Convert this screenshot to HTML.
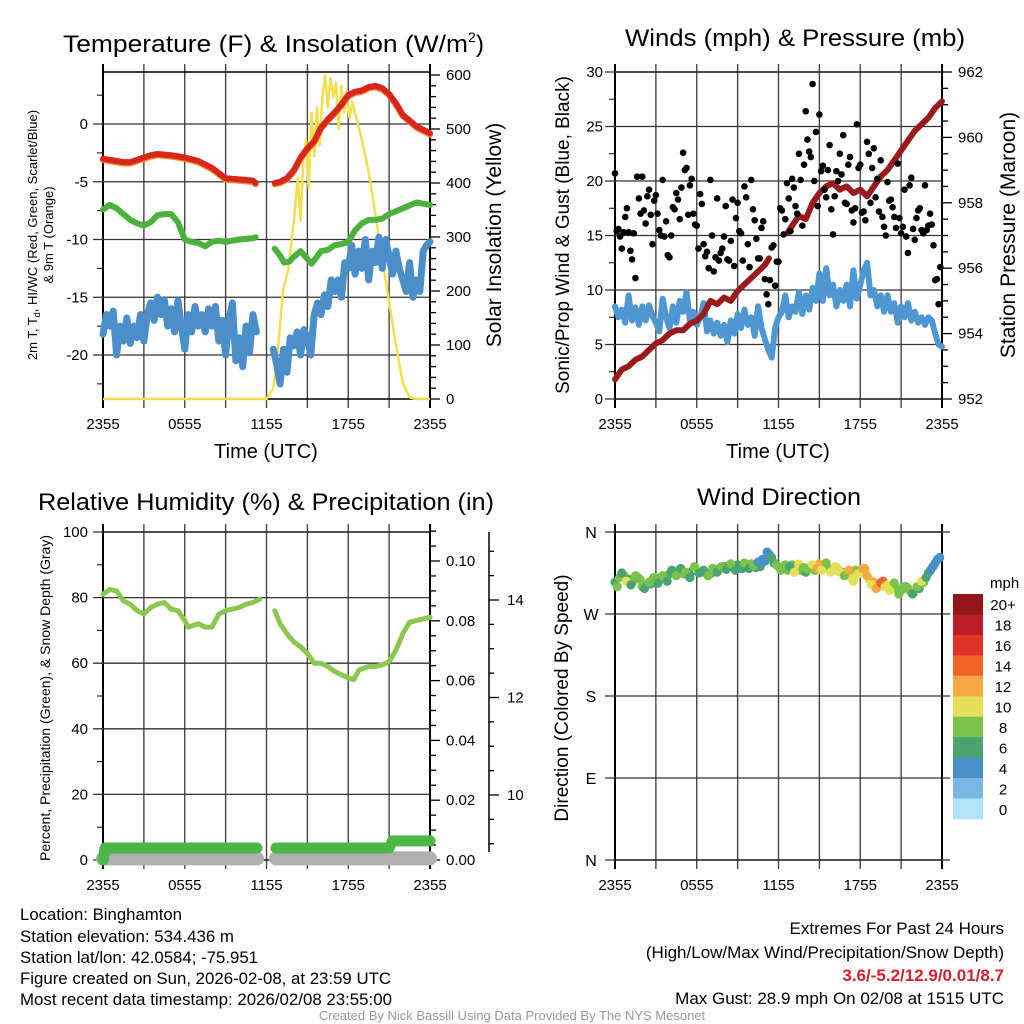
<!DOCTYPE html>
<html><head><meta charset="utf-8"><style>
html,body{margin:0;padding:0;background:#fff}
svg{display:block;font-family:"Liberation Sans Narrow","Liberation Sans",sans-serif}
</style></head><body>
<svg id="c" width="1024" height="1024" viewBox="0 0 1024 1024" xmlns="http://www.w3.org/2000/svg">
<rect width="1024" height="1024" fill="#fff"/>
<g id="g-tl"></g>
<g id="g-tr"></g>
<g id="g-bl"></g>
<g id="g-br"></g>
<text x="63" y="52" font-size="24" textLength="405" lengthAdjust="spacingAndGlyphs">Temperature (F) &amp; Insolation (W/m</text>
<text x="468" y="42" font-size="14">2</text>
<text x="476" y="52" font-size="24">)</text>
<text x="625" y="46" font-size="24" textLength="340" lengthAdjust="spacingAndGlyphs">Winds (mph) &amp; Pressure (mb)</text>
<text x="38" y="510" font-size="24" textLength="456" lengthAdjust="spacingAndGlyphs">Relative Humidity (%) &amp; Precipitation (in)</text>
<text x="697" y="505" font-size="24" textLength="164" lengthAdjust="spacingAndGlyphs">Wind Direction</text>
<g font-size="17">
<text x="20" y="920" textLength="162" lengthAdjust="spacingAndGlyphs">Location: Binghamton</text>
<text x="20" y="942" textLength="214" lengthAdjust="spacingAndGlyphs">Station elevation: 534.436 m</text>
<text x="20" y="963" textLength="238" lengthAdjust="spacingAndGlyphs">Station lat/lon: 42.0584; -75.951</text>
<text x="20" y="984" textLength="371" lengthAdjust="spacingAndGlyphs">Figure created on Sun, 2026-02-08, at 23:59 UTC</text>
<text x="20" y="1005" textLength="372" lengthAdjust="spacingAndGlyphs">Most recent data timestamp: 2026/02/08 23:55:00</text>
</g>
<g font-size="17" text-anchor="end">
<text x="1004" y="934">Extremes For Past 24 Hours</text>
<text x="1004" y="958">(High/Low/Max Wind/Precipitation/Snow Depth)</text>
<text x="1004" y="981" fill="#d2232a" font-weight="bold">3.6/-5.2/12.9/0.01/8.7</text>
<text x="1004" y="1004">Max Gust: 28.9 mph On 02/08 at 1515 UTC</text>
</g>
<text x="512" y="1020" font-size="13" fill="#999" text-anchor="middle">Created By Nick Bassill Using Data Provided By The NYS Mesonet</text>
</svg>
<script>
// ---- Temperature panel data ----
const tTimes=[0,0.5,1,1.5,2,2.5,3,3.5,4,5,6,7,8,9,10,11,11.2,11.9,12.6,13,13.5,14,14.5,15,15.5,16,16.5,17,17.5,18,18.5,19,19.5,20,20.5,21,21.5,22,23,24];
const tVals=[-3.0,-3.1,-3.2,-3.3,-3.3,-3.1,-2.9,-2.7,-2.6,-2.7,-2.9,-3.2,-3.8,-4.7,-4.8,-4.9,-5.1,null,-5.1,-5.0,-4.7,-4.0,-2.9,-2.1,-1.5,-0.3,0.4,1.0,1.7,2.5,2.8,2.9,3.2,3.3,3.1,2.6,1.8,0.8,-0.2,-0.8];
const tdTimes=[0,0.5,1,1.5,2,2.5,3,3.5,4,4.5,5,5.5,6,6.5,7,7.5,8,8.5,9,10,11,11.2,11.9,12.6,13,13.3,13.7,14,14.5,15,15.3,15.7,16,16.5,17,17.5,18,18.5,19,19.5,20,20.5,21,22,23,24];
const tdVals=[-7.4,-7.0,-7.3,-7.8,-8.3,-8.6,-8.8,-8.5,-7.9,-7.8,-7.8,-8.5,-10.0,-10.2,-10.3,-10.6,-10.2,-10.1,-10.2,-10.0,-9.9,-9.8,null,-10.8,-11.4,-12.0,-11.9,-11.5,-11.0,-11.7,-12.1,-11.5,-11.0,-10.9,-10.5,-10.4,-10.2,-9.2,-8.6,-8.3,-8.3,-8.2,-7.8,-7.3,-6.8,-7.0];
const wcStart1=0, wcStart2=12.5, wcStep=0.25;
const wc1=[-18.2,-16.5,-17.5,-16.2,-20.0,-17.5,-18.8,-16.8,-19.0,-17.5,-18.5,-16.5,-18.8,-16.5,-15.5,-17.0,-15.0,-16.5,-15.2,-17.5,-16.0,-18.0,-15.3,-17.5,-19.5,-16.5,-18.0,-15.8,-17.5,-16.5,-18.0,-16.0,-17.5,-15.8,-18.8,-17.0,-20.0,-17.0,-15.5,-20.5,-18.5,-21.0,-17.5,-19.8,-16.5,-18.0];
const wc2=[-19.5,-20.8,-22.5,-19.5,-21.5,-18.5,-19.2,-18.0,-20.0,-17.8,-18.5,-20.0,-16.5,-15.5,-16.5,-14.8,-15.8,-13.5,-14.5,-13.5,-15.0,-12.0,-12.5,-10.5,-13.0,-11.0,-12.5,-10.0,-13.5,-11.0,-12.0,-9.8,-12.5,-10.0,-11.5,-13.0,-11.0,-12.5,-13.5,-14.5,-12.0,-15.0,-13.5,-14.5,-11.0,-10.5,-10.2];
const solTimes=[0,12.0,12.5,12.8,13.2,13.6,14,14.3,14.5,14.7,14.9,15.1,15.3,15.5,15.7,15.9,16.1,16.3,16.5,16.7,16.9,17.1,17.3,17.5,17.7,17.9,18.1,18.3,18.6,19,19.5,20,20.5,21,21.5,22,22.5,23,24];
const solVals=[0,0,20,80,200,240,330,410,330,440,480,390,530,450,540,470,560,600,540,595,560,585,500,580,530,570,520,550,520,480,420,340,260,180,100,30,3,0,0];
const tempTicks=[0,-5,-10,-15,-20];
const solTicks=[0,100,200,300,400,500,600];
const timeLabels=["2355","0555","1155","1755","2355"];
// ---- Winds panel data ----
const windStep=0.25;
const windVals=[8.5,7.5,8.2,7.0,9.5,7.2,8.4,6.8,8.5,7.2,8.6,7.6,7.0,6.2,9.2,7.5,6.5,8.5,7.0,9.0,8.0,9.8,7.2,8.0,6.8,7.5,8.8,6.2,7.2,6.0,7.0,5.8,6.8,5.2,7.2,6.0,7.8,6.5,8.2,6.8,7.5,5.8,8.5,6.5,5.5,4.5,3.8,6.5,7.5,8.0,9.5,7.5,8.5,8.0,9.8,7.8,9.5,8.2,10.2,9.0,11.5,9.0,12.0,9.5,10.5,8.5,10.0,9.0,10.5,8.5,11.8,9.2,10.5,11.8,12.5,9.5,10.0,8.5,9.5,8.0,9.5,8.0,8.8,7.0,8.5,7.5,8.8,7.2,8.0,7.0,7.5,6.8,7.5,7.2,6.0,5.0,4.8];
const gustStep=0.25;
const gustA=[20.7,15.6,13.8,16.7,15.3,12.8,11.1,18.4,20.4,16.1,19.2,14.2,18.7,15.5,20.1,16.3,13.0,17.6,18.9,16.5,22.6,21.2,19.6,17.0,15.9,18.8,14.2,13.5,20.1,11.7,18.4,13.4,14.9,12.8,14.5,12.2,18.0,15.2,19.5,14.2,20.1,16.4,12.9,15.7,11.0,8.7,13.9,10.4,12.6,17.3,16.5,18.4,20.2,17.7,22.5,15.9,26.4,22.7,28.9,24.5,26.1,21.4,18.5,23.3,15.1,20.9,22.5,24.2,17.9,22.2,16.2,25.2,21.5,17.2,23.6,18.0,23.0,20.2,21.9,15.8,19.9,18.3,16.7,21.6,15.2,19.2,13.4,20.3,14.6,17.3,15.5,19.6,15.9,16.0,10.9,8.7];
const gustB=[15.4,14.9,15.3,17.5,13.6,15.2,20.4,17.0,17.3,18.6,16.9,18.2,17.0,15.0,14.9,13.2,15.0,17.4,18.3,19.4,21.0,16.9,20.2,16.0,13.8,17.9,13.1,12.0,15.0,13.0,12.7,13.8,17.7,12.7,18.3,16.6,15.4,12.7,18.5,12.1,17.4,14.7,12.9,16.3,9.6,10.9,14.1,12.6,17.5,15.1,19.8,15.4,19.4,17.0,20.1,21.5,23.8,22.2,20.0,17.7,20.9,19.2,21.0,17.4,18.6,20.0,20.6,18.0,21.5,17.3,17.5,21.2,17.1,16.4,22.5,21.2,18.5,17.2,16.7,15.0,18.2,17.6,15.7,16.6,15.8,14.9,19.6,15.6,16.6,17.5,15.2,15.5,17.0,14.1,11.0,12.1];
const presTimes=[0,0.5,1,1.5,2,2.5,3,3.5,4,4.5,5,5.5,6,6.5,7,7.5,8,8.5,9,9.5,10,10.5,11,11.3,12.0,12.7,13,13.5,14,14.5,15,15.5,16,16.5,17,17.5,18,18.5,19,19.5,20,20.5,21,21.5,22,22.5,23,23.5,24];
const presVals=[952.6,952.9,953.0,953.2,953.3,953.5,953.7,953.8,954.0,954.1,954.1,954.3,954.4,954.6,955.0,954.9,955.1,955.0,955.3,955.5,955.7,955.9,956.1,956.3,null,957.1,957.3,957.6,957.5,958.0,958.3,958.5,958.6,958.4,958.5,958.3,958.4,958.2,958.5,958.8,959.0,959.3,959.6,959.9,960.2,960.4,960.6,960.9,961.1];
const windTicks=[0,5,10,15,20,25,30];
const presTicks=[952,954,956,958,960,962];
// ---- Humidity panel data ----
const rhTimes=[0,0.5,1,1.5,2,2.5,3,3.5,4,4.5,5,5.5,6,6.25,7,7.5,8,8.5,9,10,10.5,11,11.5,12.0,12.6,13,13.5,14,14.5,15,15.5,16,16.5,17,17.5,18,18.4,18.8,19.5,20,20.5,21,21.5,22,22.5,23,23.5,24];
const rhVals=[81,82.5,82,79,78,76,75,77,78,78.5,76.5,76,73,71,72,71,71,75,76,77,78,78.5,79.5,null,76,72,69,66.5,65,63,60,60,59,57.5,56.5,55.5,55,58,59,59,59.5,60.5,64,69,72.5,73,73.5,74];
const precipTimes=[0,0.15,11.3,12.0,12.7,21.0,21.25,24];
const precipVals=[0,0.004,0.004,null,0.004,0.004,0.0064,0.0064];
const snowTimes=[0,11.3,12.0,12.7,24];
const snowVals=[8.7,8.7,null,8.7,8.7];
const rhTicks=[0,20,40,60,80,100];
const precipTicks=[0,0.02,0.04,0.06,0.08,0.10];
const snowTicks=[10,12,14];
// ---- Wind direction panel data ----
const dirStep=1/3;
const dirVals=[305,310,312,308,306,310,300,302,303,306,310,309,314,316,318,314,313,317,319,316,315,314,318,320,322,323,321,324,320,322,325,321,322,328,335,326,322,320,318,324,320,318,316,322,318,325,323,320,318,320,316,314,310,318,315,320,308,305,300,306,302,300,298,296,300,295,294,298,305,315,322,330];
const dirSpeeds=[7,8,9,7,8,6,8,7,6,8,7,8,6,7,9,8,6,7,10,8,7,6,8,7,7,6,8,7,6,5,8,7,7,4,5,7,8,7,9,8,10,9,7,10,9,13,12,8,9,10,8,11,10,9,10,12,11,13,12,14,11,10,8,9,7,8,11,7,8,6,5,4];
const dirValsB=[300,315,306,302,312,308,298,305,310,304,312,306,318,312,320,316,310,322,315,318,312,320,316,322,319,325,318,322,326,320,323,327,330,338,332,324,318,324,322,316,325,321,319,324,320,318,326,316,322,316,312,318,306,314,320,312,302,298,304,300,296,304,292,300,298,292,300,306,310,318,326,332];
const dirSpeedsB=[8,6,10,7,9,8,7,8,9,6,8,7,7,8,6,9,7,8,6,7,9,8,6,8,6,8,7,6,9,7,8,5,4,4,6,8,9,8,7,10,11,8,9,11,12,10,9,10,10,11,9,12,11,10,13,12,10,12,14,11,10,9,8,8,9,7,8,10,7,5,4,4];
const dirTicks=["N","W","S","E","N"];
const cbLabels=["20+","18","16","14","12","10","8","6","4","2","0"];
const cbColors=["#93161a","#bb1d24","#de3327","#ef6327","#f5a843","#e5e05a","#7bc24a","#4aa472","#4a90c8","#7ab8e3","#b3e3f7"];

const NS="http://www.w3.org/2000/svg";
function mk(parent,tag,attrs,txt){const e=document.createElementNS(NS,tag);for(const k in attrs)e.setAttribute(k,attrs[k]);if(txt!==undefined)e.textContent=txt;parent.appendChild(e);return e;}
const X0=103,X1=430,X0R=615,X1R=942;
function xA(h){return X0+h*(X1-X0)/24;}
function xB(h){return X0R+h*(X1R-X0R)/24;}
function pathFrom(ts,vs,xf,yf){let d="",pen=false;for(let i=0;i<ts.length;i++){if(vs[i]===null){pen=false;continue;}d+=(pen?"L":"M")+xf(ts[i]).toFixed(1)+","+yf(vs[i]).toFixed(1);pen=true;}return d;}

function frame(g,xl,xr,yt,yb){
  for(let k=0;k<=8;k++){const x=xl+k*(xr-xl)/8;
    const l=mk(g,"line",{x1:x,x2:x,y1:yt-8,y2:yb+9,stroke:(k==0||k==8)?"#000":"#444","stroke-width":(k==0||k==8)?2:1.4});
    
    }
  for(let k=0;k<5;k++){const t=mk(g,"text",{x:xl+k*(xr-xl)/4,y:yb+30,"font-size":15,"text-anchor":"middle"},timeLabels[k]);
    
    }
  const b=mk(g,"rect",{x:xl,y:yt,width:xr-xl,height:yb-yt,fill:"none",stroke:"#000","stroke-width":1.5});
  
  
}
function hgrid(g,xl,xr,y,label,lx){
  const l=mk(g,"line",{x1:xl-10,x2:xr,y1:y,y2:y,stroke:"#333","stroke-width":1.3});
  
  
  const t=mk(g,"text",{x:lx,y:y+5,"font-size":15,"text-anchor":"end"},label);
  
  
}
function rtick(g,x,y,len,label,lx,anchor){
  const l=mk(g,"line",{x1:x,x2:x+len,y1:y,y2:y,stroke:"#000","stroke-width":1.3});
  
  
  if(label!==null){const t=mk(g,"text",{x:lx,y:y+5,"font-size":15,"text-anchor":anchor||"start"},label);
    
    }
}
function vtitle(g,x,y,size,txt,name,len){
  const a={x:0,y:0,"font-size":size,"text-anchor":"middle",transform:`translate(${x},${y}) rotate(-90)`};
  if(len){a.textLength=len;a.lengthAdjust="spacingAndGlyphs";}
  const t=mk(g,"text",a,txt);
  
  
  return t;
}

// ===== Top-left =====
(function(){
  const g=document.getElementById("g-tl");const yt=72,yb=399;
  const ty=v=>124-v*11.55, sy=v=>399-v*0.54;
  frame(g,X0,X1,yt,yb);
  tempTicks.forEach(v=>hgrid(g,X0,X1,ty(v),String(v),88));
  for(let v=2.5;v>-24;v-=5){const y=ty(v);if(y>yt&&y<yb){const l=mk(g,"line",{x1:X0-6,x2:X0,y1:y,y2:y,stroke:"#000"});}}
  for(let v=0;v<=600;v+=20){const major=v%100==0;rtick(g,X1,sy(v),major?10:6,major?String(v):null,446);}
  const s=mk(g,"path",{d:pathFrom(solTimes,solVals,xA,sy),fill:"none",stroke:"#f3df4b","stroke-width":2.5,"stroke-linejoin":"round"});
  
  
  const wcT1=wc1.map((_,i)=>wcStart1+i*wcStep), wcT2=wc2.map((_,i)=>wcStart2+i*wcStep);
  [[wcT1,wc1],[wcT2,wc2]].forEach(p=>{const e=mk(g,"path",{d:pathFrom(p[0],p[1],xA,ty),fill:"none",stroke:"#4a8fc9","stroke-width":7,"stroke-linejoin":"round","stroke-linecap":"round"});
    
    });
  const td=mk(g,"path",{d:pathFrom(tdTimes,tdVals,xA,ty),fill:"none",stroke:"#4db13d","stroke-width":6,"stroke-linejoin":"round","stroke-linecap":"round"});
  
  
  const o=mk(g,"path",{d:pathFrom(tTimes,tVals.map(v=>v===null?null:v-0.12),xA,ty),fill:"none",stroke:"#f08a2c","stroke-width":6,"stroke-linejoin":"round","stroke-linecap":"round"});
  
  
  const r=mk(g,"path",{d:pathFrom(tTimes,tVals,xA,ty),fill:"none",stroke:"#d9261c","stroke-width":6,"stroke-linejoin":"round","stroke-linecap":"round"});
  
  
  const xt=mk(g,"text",{x:266,y:458,"font-size":20,"text-anchor":"middle"},"Time (UTC)");
  
  
  const lt=mk(g,"text",{"font-size":13,"text-anchor":"middle",transform:"translate(37,235) rotate(-90)"});
  
  
  lt.innerHTML='2m T, T<tspan font-size="9" dy="3">d</tspan><tspan dy="-3">, HI/WC (Red, Green, Scarlet/Blue)</tspan>';
  vtitle(g,53,235,13,"& 9m T (Orange)","y-axis-title-line2");
  vtitle(g,501,235,21,"Solar Insolation (Yellow)","right-axis-title");
})();

// ===== Top-right =====
(function(){
  const g=document.getElementById("g-tr");const yt=72,yb=399;
  const wy=v=>399-v*10.9, py=v=>399-(v-952)*32.7;
  frame(g,X0R,X1R,yt,yb);
  windTicks.forEach(v=>hgrid(g,X0R,X1R,wy(v),String(v),603));
  for(let v=2.5;v<30;v+=5){const l=mk(g,"line",{x1:X0R-6,x2:X0R,y1:wy(v),y2:wy(v),stroke:"#000"});}
  for(let v=952;v<=962.01;v+=0.5){const major=Math.abs(v-Math.round(v/2)*2)<0.01;rtick(g,X1R,py(v),major?10:6,major?String(Math.round(v)):null,958);}
  const wT=windVals.map((_,i)=>i*windStep);
  const w=mk(g,"path",{d:pathFrom(wT,windVals,xB,wy),fill:"none",stroke:"#4f97d3","stroke-width":6,"stroke-linejoin":"round","stroke-linecap":"round"});
  
  
  const p=mk(g,"path",{d:pathFrom(presTimes,presVals,xB,py),fill:"none",stroke:"#9a1b1e","stroke-width":6,"stroke-linejoin":"round","stroke-linecap":"round"});
  
  
  gustA.forEach((v,i)=>{const c=mk(g,"circle",{cx:xB(i*gustStep),cy:wy(v),r:3.3,fill:"#000"});
    
    });
  gustB.forEach((v,i)=>{const c=mk(g,"circle",{cx:xB(i*gustStep+gustStep/2),cy:wy(v),r:3.3,fill:"#000"});
    
    });
  const xt=mk(g,"text",{x:778,y:458,"font-size":20,"text-anchor":"middle"},"Time (UTC)");
  
  
  vtitle(g,569,235,19,"Sonic/Prop Wind & Gust (Blue, Black)","y-axis-title");
  vtitle(g,1015,235,21,"Station Pressure (Maroon)","right-axis-title");
})();

// ===== Bottom-left =====
(function(){
  const g=document.getElementById("g-bl");const yt=532,yb=860;
  const ry=v=>860-v*3.28, pry=v=>860-v*2990, sny=v=>795-(v-10)*48.75;
  frame(g,X0,X1,yt,yb);
  rhTicks.forEach(v=>hgrid(g,X0,X1,ry(v),String(v),88));
  for(let v=10;v<100;v+=20){const l=mk(g,"line",{x1:X0-6,x2:X0,y1:ry(v),y2:ry(v),stroke:"#000"});}
  for(let k=0;k<=22;k++){const v=k*0.005;const major=k%4==0;rtick(g,X1,pry(v),major?10:6,major?v.toFixed(2):null,446);}
  const sa=mk(g,"line",{x1:489,x2:489,y1:yt,y2:yb-8,stroke:"#000","stroke-width":1.5});
  
  
  for(let v=8.5;v<=16.5;v+=0.5){const y=sny(v);if(y<yt||y>yb-8)continue;const major=Math.abs(v-Math.round(v))<0.01&&Math.round(v)%2==0;rtick(g,489,y,major?10:5,major&&snowTicks.includes(Math.round(v))?String(Math.round(v)):null,507);}
  const sn=mk(g,"path",{d:pathFrom(snowTimes,snowVals,xA,sny),fill:"none",stroke:"#b0b0b0","stroke-width":14,"stroke-linecap":"round"});
  
  
  const pr=mk(g,"path",{d:pathFrom(precipTimes,precipVals,xA,pry),fill:"none",stroke:"#4bb747","stroke-width":11,"stroke-linecap":"round","stroke-linejoin":"round"});
  
  
  const rh=mk(g,"path",{d:pathFrom(rhTimes,rhVals,xA,ry),fill:"none",stroke:"#8cc74f","stroke-width":5,"stroke-linejoin":"round","stroke-linecap":"round"});
  
  
  vtitle(g,50,698,14,"Percent, Precipitation (Green), & Snow Depth (Gray)","y-axis-title");
})();

// ===== Bottom-right =====
(function(){
  const g=document.getElementById("g-br");const yt=532,yb=860;
  const dy=d=>860-d*(328/360);
  frame(g,X0R,X1R,yt,yb);
  dirTicks.forEach((lab,k)=>{const y=yt+k*(yb-yt)/4;
    const l=mk(g,"line",{x1:X0R-10,x2:X1R+8,y1:y,y2:y,stroke:"#333","stroke-width":1.3});
    
    
    const t=mk(g,"text",{x:591,y:y+6,"font-size":16,"text-anchor":"middle"},lab);
    
    });
  function col(s){let b=Math.floor(s/2);if(b>10)b=10;return cbColors[10-b];}
  dirVals.forEach((d,i)=>{const c=mk(g,"circle",{cx:xB(i*dirStep),cy:dy(d),r:4.6,fill:col(dirSpeeds[i])});
    
    });
  dirValsB.forEach((d,i)=>{const c=mk(g,"circle",{cx:xB(i*dirStep+dirStep/2),cy:dy(d),r:4.6,fill:col(dirSpeedsB[i])});
    
    });
  vtitle(g,568,698,19,"Direction (Colored By Speed)","y-axis-title");
  const mph=mk(g,"text",{x:990,y:588,"font-size":15},"mph");
  
  
  const h=(819-594)/11;
  cbLabels.forEach((lab,k)=>{
    const r=mk(g,"rect",{x:953,y:594+k*h,width:30,height:h+0.3,fill:cbColors[k]});
    
    
    const t=mk(g,"text",{x:1003,y:594+k*h+h/2+6,"font-size":15,"text-anchor":"middle"},lab);
    
    });
})();
</script>
</body></html>
